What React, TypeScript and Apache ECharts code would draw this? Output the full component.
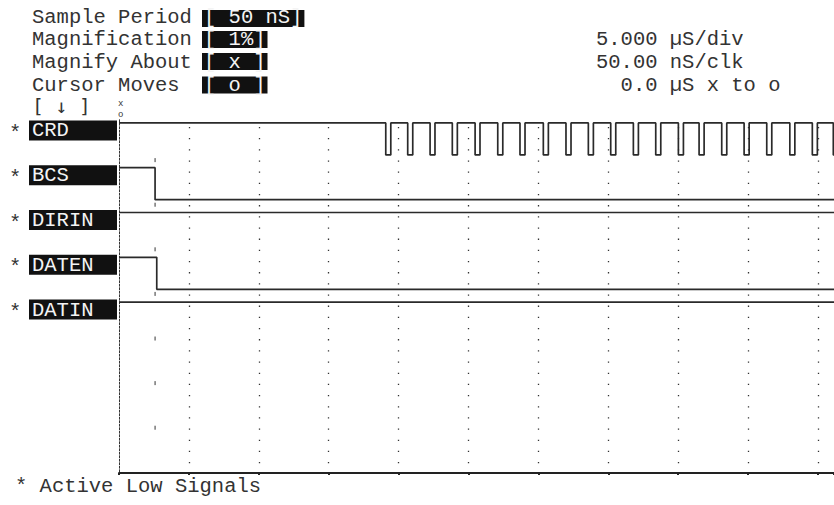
import React, { useEffect, useRef } from 'react';
import * as echarts from 'echarts';

// ---- data (times in µs) ----
const signalNames = ['CRD', 'BCS', 'DIRIN', 'DATEN', 'DATIN'];
const crdFallTimes = [19.08, 20.65, 22.25, 23.84, 25.47, 27.09, 28.68, 30.35, 31.97, 33.57, 35.17, 36.79, 38.39, 40.01, 41.49, 43.11, 44.71, 46.33, 47.98, 49.59, 51.09];
const crdRiseTimes = [19.44, 21.01, 22.6, 24.2, 25.82, 27.45, 29.04, 30.71, 32.33, 33.93, 35.53, 37.15, 38.75, 40.37, 41.85, 43.47, 45.07, 46.69, 48.34, 49.95, 51.45];
const bcsEdges: [number, number][] = [[0, 1], [2.58, 0]];
const dirinEdges: [number, number][] = [[0, 1]];
const datenEdges: [number, number][] = [[0, 1], [2.7, 0]];
const datinEdges: [number, number][] = [[0, 1]];
const cursorTime = 2.58;

const headerLabels = ['Sample Period', 'Magnification', 'Magnify About', 'Cursor Moves'];
const headerValues = ['[ 50 nS]', '[ 1%]', '[ x ]', '[ o ]'];
const rightInfo = ['5.000 µS/div', '50.00 nS/clk', '0.0 µS x to o'];
const footerText = '* Active Low Signals';

const X_MAX = 51.14;
const DIV = 5;
const ROW_GAP = 1.4;
const Y_MIN = -0.1;
const Y_MAX = 10.94;

const FONT = '"Liberation Mono", "DejaVu Sans Mono", monospace';
const FS = 20.5;
const CW = 12.3;
const INK = '#333';

function crdEdges(): [number, number][] {
  const e: [number, number][] = [[0, 1]];
  crdFallTimes.forEach((f, i) => {
    e.push([f, 0]);
    e.push([crdRiseTimes[i], 1]);
  });
  return e;
}

function toSteps(edges: [number, number][], row: number) {
  const y = (lv: number) => row * ROW_GAP + (1 - lv);
  const pts: number[][] = [[edges[0][0], y(edges[0][1])]];
  let prev = edges[0][1];
  for (let i = 1; i < edges.length; i++) {
    const [t, lv] = edges[i];
    pts.push([t, y(prev)]);
    pts.push([t, y(lv)]);
    prev = lv;
  }
  pts.push([X_MAX + 1, y(prev)]);
  return pts;
}

export default function App() {
  const ref = useRef<HTMLDivElement>(null);
  useEffect(() => {
    document.body.style.margin = '0';
    const chart = echarts.init(ref.current!, null, { renderer: 'svg' });
    const allEdges = [crdEdges(), bcsEdges, dirinEdges, datenEdges, datinEdges];
    const series: any[] = allEdges.map((e, i) => ({
      name: signalNames[i],
      type: 'line',
      data: toSteps(e, i),
      symbol: 'none',
      silent: true,
      lineStyle: { color: '#2a2a2a', width: 1.7 },
    }));
    series.push({
      name: 'cursor',
      type: 'line',
      data: [[cursorTime, 1.1], [cursorTime, 9.7]],
      symbol: 'none',
      silent: true,
      lineStyle: { color: '#333', width: 1, type: [4, 40.6] },
    });

    const graphic: any[] = [];
    const txt = (x: number, y: number, text: string, opts: any = {}) =>
      graphic.push({
        type: 'text',
        x,
        y,
        silent: true,
        style: {
          text,
          font: `${opts.fs || FS}px ${opts.font || FONT}`,
          fill: opts.fill || INK,
          verticalAlign: 'middle',
          align: 'left',
        },
      });
    const box = (x: number, y: number, w: number, h: number) =>
      graphic.push({ type: 'rect', silent: true, shape: { x, y, width: w, height: h }, style: { fill: '#111' } });

    const lineY = [17, 39.5, 62, 85.5];
    const boxY = [10, 31, 53, 76.5];
    headerLabels.forEach((l, i) => {
      txt(32, lineY[i], l);
      box(202, boxY[i], headerValues[i].length * CW + 4, 17);
      txt(204, lineY[i], headerValues[i], { fill: '#f4f4f4' });
    });
    rightInfo.forEach((t, i) => {
      txt(i === 2 ? 596 + 2 * CW : 596, lineY[i + 1], t);
    });
    txt(32, 106.5, '[ ↓ ]', { font: '"DejaVu Sans Mono", monospace', fs: 19.5 });
    txt(118, 104, 'x', { fs: 9 });
    txt(118, 115, 'o', { fs: 9 });
    txt(15, 486, footerText);

    chart.setOption({
      animation: false,
      grid: { left: 119, right: 0, top: 119.72, bottom: 32 },
      xAxis: {
        type: 'value',
        min: 0,
        max: X_MAX,
        interval: DIV,
        axisLabel: { show: false },
        axisLine: { onZero: false, lineStyle: { color: '#222', width: 1.8 } },
        axisTick: { show: true, length: 2, lineStyle: { color: '#222', width: 2 } },
        splitLine: {
          show: true,
          showMinLine: false,
          showMaxLine: false,
          lineStyle: { color: '#333', width: 1.3, type: [1.3, 9.87], dashOffset: 3.6 },
        },
      },
      yAxis: {
        type: 'value',
        inverse: true,
        min: Y_MIN,
        max: Y_MAX,
        axisLabel: { show: false },
        axisTick: { show: false },
        splitLine: { show: false },
        axisLine: { show: true, onZero: false, lineStyle: { color: '#333', width: 1, type: [2, 1.5] } },
      },
      series,
    });

    signalNames.forEach((name, i) => {
      const p = chart.convertToPixel({ gridIndex: 0 }, [0, i * ROW_GAP]) as number[];
      const top = p[1] - 2.5;
      box(29, top, 88, 20);
      txt(32, top + 10.5, name, { fill: '#f4f4f4' });
      txt(9, top + 13, '*');
    });
    chart.setOption({ graphic });

    return () => chart.dispose();
  }, []);
  return <div ref={ref} style={{ width: 834, height: 505 }} />;
}
